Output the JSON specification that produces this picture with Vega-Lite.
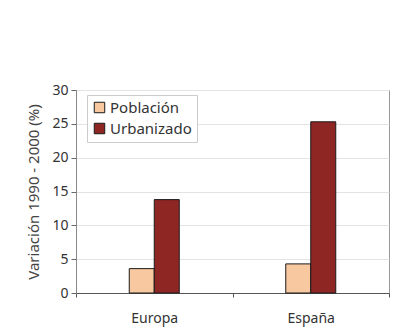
{
  "$schema": "https://vega.github.io/schema/vega-lite/v6.json",
  "autosize": "none",
  "width": 313,
  "height": 203,
  "padding": {"left": 76, "top": 90, "right": 15, "bottom": 34},
  "background": "white",
  "data": {"values": [
    {"region": "Europa", "serie": "Población", "valor": 3.6},
    {"region": "Europa", "serie": "Urbanizado", "valor": 13.8},
    {"region": "España", "serie": "Población", "valor": 4.3},
    {"region": "España", "serie": "Urbanizado", "valor": 25.3}
  ]},
  "mark": {"type": "bar", "stroke": "#1a1a1a", "strokeWidth": 1},
  "encoding": {
    "x": {"field": "region", "type": "nominal", "sort": ["Europa", "España"],
      "scale": {"paddingInner": 0, "paddingOuter": 0},
      "axis": {"title": null, "labelAngle": 0, "tickBand": "extent", "labelPadding": 14, "labelFontSize": 14, "labelColor": "#333", "domainColor": "#555", "tickColor": "#555", "tickSize": 4, "grid": false}},
    "xOffset": {"field": "serie", "type": "nominal", "scale": {"domain": ["_a", "_b", "Población", "Urbanizado", "_c", "_d"], "paddingInner": 0, "paddingOuter": 0.13}},
    "y": {"field": "valor", "type": "quantitative",
      "scale": {"domain": [0, 30], "nice": false},
      "axis": {"title": "Variación 1990 - 2000 (%)", "values": [0, 5, 10, 15, 20, 25, 30], "titleFontSize": 15, "titleFontWeight": "normal", "titleColor": "#444", "titlePadding": 10, "labelFontSize": 14, "labelColor": "#333", "labelPadding": 3, "tickSize": 5, "tickColor": "#666", "domainColor": "#888", "gridColor": "#e3e3e3"}},
    "color": {"field": "serie", "type": "nominal",
      "scale": {"domain": ["Población", "Urbanizado"], "range": ["#F8C9A0", "#8E2624"]},
      "legend": {"title": null, "orient": "none", "legendX": 11, "legendY": 5, "symbolType": "square", "symbolSize": 110, "symbolStrokeColor": "#1a1a1a", "symbolStrokeWidth": 1, "labelFontSize": 15, "labelColor": "#333", "fillColor": "white", "strokeColor": "#cccccc", "padding": 5, "rowPadding": 5, "symbolOffset": 0, "labelOffset": 3}}
  },
  "config": {
    "font": "Noto Sans",
    "view": {"stroke": "#999", "strokeWidth": 1}
  }
}
